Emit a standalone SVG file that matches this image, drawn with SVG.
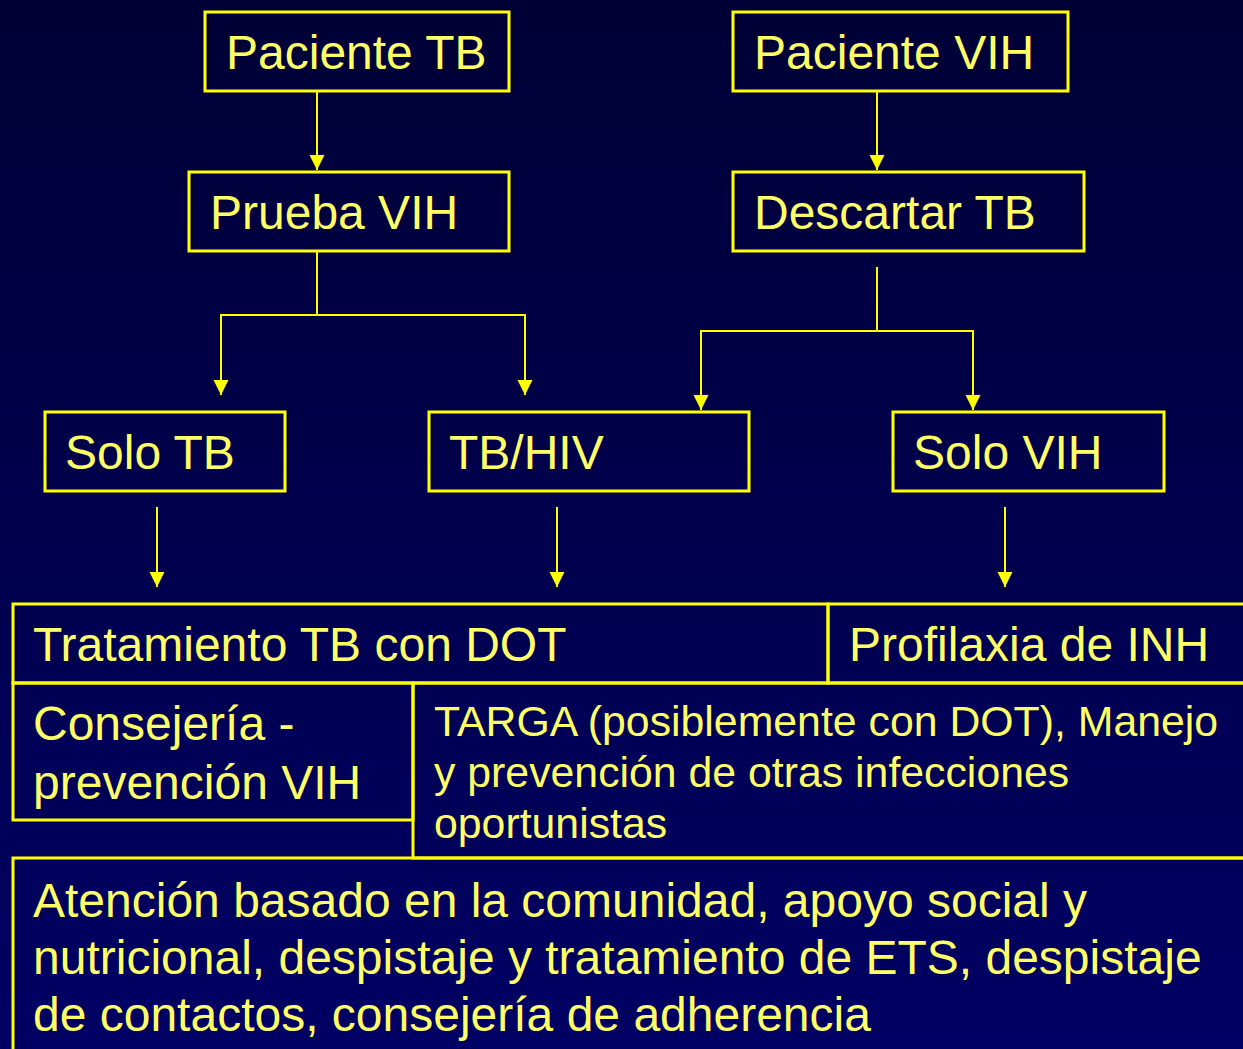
<svg xmlns="http://www.w3.org/2000/svg" width="1243" height="1049" viewBox="0 0 1243 1049">
<defs>
<linearGradient id="bg" x1="0" y1="0" x2="0" y2="1">
<stop offset="0" stop-color="#000036"/>
<stop offset="1" stop-color="#000064"/>
</linearGradient>
<marker id="arr" markerUnits="userSpaceOnUse" markerWidth="16" markerHeight="16" viewBox="0 0 16 16" refX="15" refY="8" orient="auto">
<path d="M0,0.5 L15,8 L0,15.5 z" fill="#FFFF00"/>
</marker>
<style>
.box{fill:none;stroke:#FFFF00;stroke-width:3}
.t{font-family:"Liberation Sans",Arial,sans-serif;font-size:48px;fill:#FFFF66}
.s{font-size:42.8px}
.c{fill:none;stroke:#FFFF00;stroke-width:2;marker-end:url(#arr)}
</style>
</defs>
<rect x="0" y="0" width="1243" height="1049" fill="url(#bg)"/>
<g id="connectors">
<path class="c" d="M317,92 V170"/>
<path class="c" d="M877,92 V170"/>
<path class="c" d="M317,252 V315 H221 V395"/>
<path class="c" d="M317,315 H525 V395"/>
<path class="c" d="M877,267 V331 H701 V410"/>
<path class="c" d="M877,331 H973 V410"/>
<path class="c" d="M157,507 V587"/>
<path class="c" d="M557,507 V587"/>
<path class="c" d="M1005,507 V587"/>
</g>
<g id="paciente-tb"><rect class="box" x="205" y="12" width="304" height="79"/><text class="t" x="226" y="69">Paciente TB</text></g>
<g id="paciente-vih"><rect class="box" x="733" y="12" width="335" height="79"/><text class="t" x="754" y="69">Paciente VIH</text></g>
<g id="prueba-vih"><rect class="box" x="189" y="172" width="320" height="79"/><text class="t" x="210" y="229">Prueba VIH</text></g>
<g id="descartar-tb"><rect class="box" x="733" y="172" width="351" height="79"/><text class="t" x="754" y="229">Descartar TB</text></g>
<g id="solo-tb"><rect class="box" x="45" y="412" width="240" height="79"/><text class="t" x="65" y="469">Solo TB</text></g>
<g id="tb-hiv"><rect class="box" x="429" y="412" width="320" height="79"/><text class="t" x="449" y="469">TB/HIV</text></g>
<g id="solo-vih"><rect class="box" x="893" y="412" width="271" height="79"/><text class="t" x="913" y="469">Solo VIH</text></g>
<g id="tratamiento"><rect class="box" x="13" y="604" width="815" height="79"/><text class="t" x="33" y="661">Tratamiento TB con DOT</text></g>
<g id="profilaxia"><rect class="box" x="828" y="604" width="420" height="79"/><text class="t" x="849" y="661">Profilaxia de INH</text></g>
<g id="consejeria"><rect class="box" x="13" y="683" width="400" height="137"/><text class="t" x="33" y="740">Consejería -</text><text class="t" x="33" y="799">prevención VIH</text></g>
<g id="targa"><rect class="box" x="413" y="683" width="835" height="175"/><text class="t s" x="434" y="736">TARGA (posiblemente con DOT), Manejo</text><text class="t s" x="434" y="787">y prevención de otras infecciones</text><text class="t s" x="434" y="838">oportunistas</text></g>
<g id="atencion"><rect class="box" x="13" y="858" width="1235" height="200"/><text class="t" x="33" y="917">Atención basado en la comunidad, apoyo social y</text><text class="t" x="33" y="974">nutricional, despistaje y tratamiento de ETS, despistaje</text><text class="t" x="33" y="1031">de contactos, consejería de adherencia</text></g>
</svg>
